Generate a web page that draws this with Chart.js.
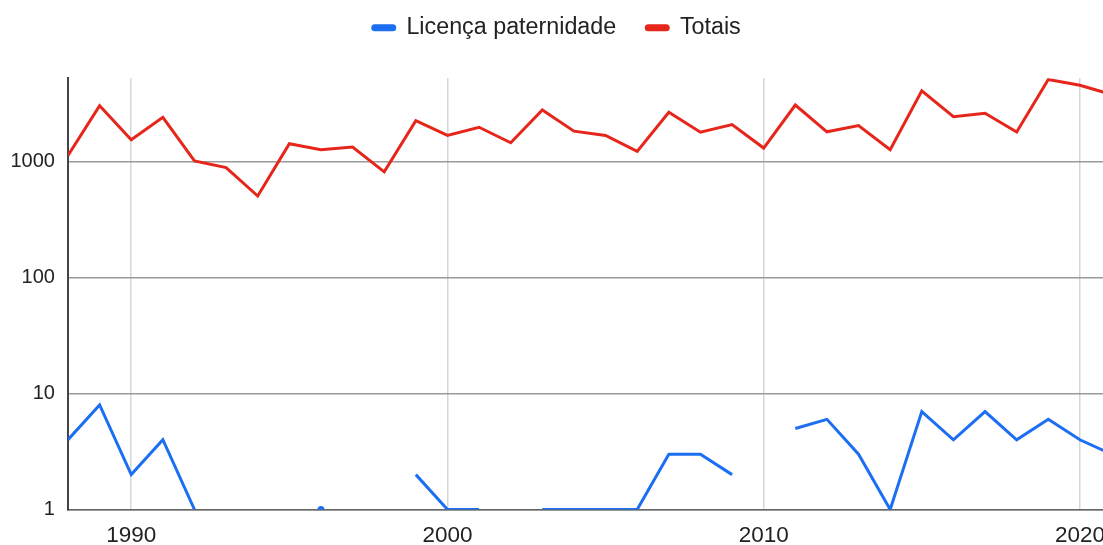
<!DOCTYPE html>
<html>
<head>
<meta charset="utf-8">
<script src="https://cdn.jsdelivr.net/npm/chart.js@4/dist/chart.umd.min.js"></script>
<style>
  html, body { margin: 0; padding: 0; background: #fff; overflow: hidden; }
  #wrap { width: 1118px; height: 545px; }
</style>
</head>
<body>
<div id="wrap"><canvas id="grafico"></canvas></div>
<script>
// Dados
const anos = [1988, 1989, 1990, 1991, 1992, 1993, 1994, 1995, 1996, 1997,
              1998, 1999, 2000, 2001, 2002, 2003, 2004, 2005, 2006, 2007,
              2008, 2009, 2010, 2011, 2012, 2013, 2014, 2015, 2016, 2017,
              2018, 2019, 2020, 2021];
const licencaPaternidade = [4, 8, 2, 4, 1, null, null, null, 1, null,
                            null, 2, 1, 1, null, 1, 1, 1, 1, 3,
                            3, 2, null, 5, 6, 3, 1, 7, 4, 7,
                            4, 6, 4, 3];
const totais = [1140, 3060, 1555, 2430, 1020, 894, 508, 1436, 1276, 1345,
                821, 2275, 1693, 1995, 1465, 2810, 1845, 1693, 1234, 2683,
                1807, 2103, 1318, 3100, 1820, 2062, 1276, 4115, 2462, 2630,
                1815, 5150, 4590, 3820];
const ticksX = [1990, 2000, 2010, 2020];
const ticksY = [1, 10, 100, 1000];

const fonte = '"Liberation Sans", Arial, sans-serif';

// ponto isolado (sem vizinhos) fica visível como um pontinho
function raioIsolado(ctx) {
    const d = ctx.dataset.data;
    const i = ctx.dataIndex;
    const atual = d[i] && d[i].y;
    const antes = i > 0 ? d[i - 1].y : null;
    const depois = i < d.length - 1 ? d[i + 1].y : null;
    return atual != null && antes == null && depois == null ? 2 : 0;
}

// espaço extra abaixo da legenda
const margemLegenda = {
    id: 'margemLegenda',
    beforeInit(chart) {
        const fitOriginal = chart.legend.fit;
        chart.legend.fit = function () {
            fitOriginal.bind(chart.legend)();
            this.height += 29;
        };
    }
};

new Chart(document.getElementById('grafico'), {
    type: 'line',
    data: {
        datasets: [
            {
                label: 'Licença paternidade',
                data: anos.map((a, i) => ({ x: a, y: licencaPaternidade[i] })),
                borderColor: '#1c6ef2',
                backgroundColor: '#1c6ef2',
                borderWidth: 3,
                pointRadius: raioIsolado,
                pointHoverRadius: 0,
                tension: 0,
                spanGaps: false
            },
            {
                label: 'Totais',
                data: anos.map((a, i) => ({ x: a, y: totais[i] })),
                borderColor: '#e6261a',
                backgroundColor: '#e6261a',
                borderWidth: 3,
                pointRadius: 0,
                tension: 0
            }
        ]
    },
    options: {
        responsive: true,
        maintainAspectRatio: false,
        animation: false,
        layout: { padding: { top: -14, left: -2.5, right: 2, bottom: -17.5 } },
        plugins: {
            tooltip: { enabled: false },
            legend: {
                position: 'top',
                labels: {
                    boxWidth: 22,
                    boxHeight: 4,
                    useBorderRadius: true,
                    borderRadius: 2,
                    padding: 30,
                    color: '#222',
                    font: { family: fonte, size: 23.3 }
                }
            }
        },
        scales: {
            x: {
                type: 'linear',
                min: 1988,
                max: 2021,
                afterBuildTicks: s => { s.ticks = ticksX.map(v => ({ value: v })); },
                ticks: {
                    color: '#222',
                    padding: 13,
                    maxRotation: 0,
                    font: { family: fonte, size: 22.5 },
                    callback: v => String(v)
                },
                grid: { color: '#d6d6d6', lineWidth: 1.5, drawTicks: false },
                border: { display: true, color: '#666', width: 1.5 }
            },
            y: {
                type: 'logarithmic',
                min: 1,
                max: 5275,
                afterBuildTicks: s => { s.ticks = ticksY.map(v => ({ value: v })); },
                ticks: {
                    color: '#222',
                    padding: 13,
                    font: { family: fonte, size: 20 },
                    callback: v => String(v)
                },
                grid: { color: '#9a9a9a', lineWidth: 1.5, drawTicks: false },
                border: { display: true, color: '#444', width: 2 }
            }
        }
    },
    plugins: [margemLegenda]
});
</script>
</body>
</html>
